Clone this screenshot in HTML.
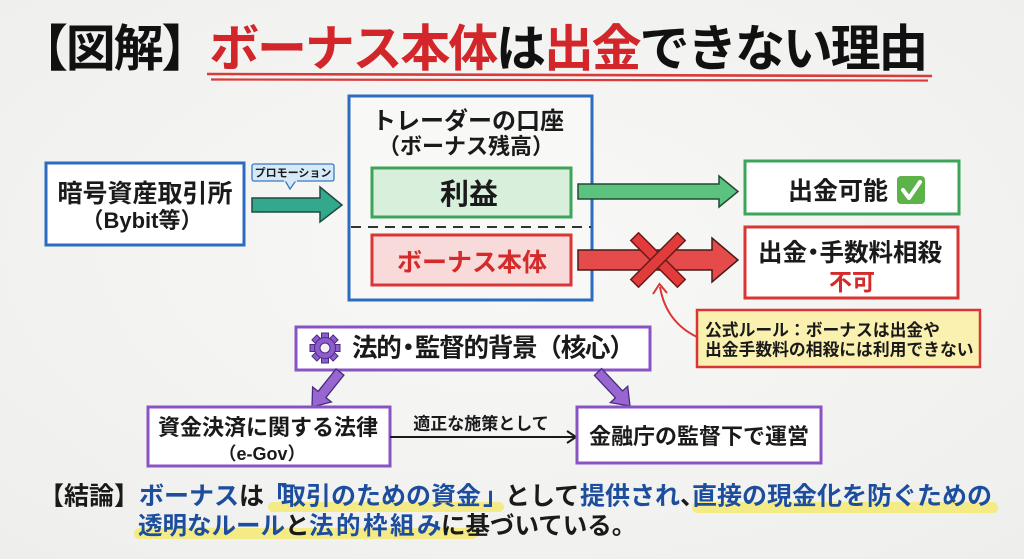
<!DOCTYPE html>
<html><head><meta charset="utf-8"><style>
html,body{margin:0;padding:0;background:#f3f3f2;}
svg{display:block;}
text{font-family:"Liberation Sans","Noto Sans CJK JP",sans-serif;font-weight:700;}
</style></head><body>
<svg width="1024" height="559" viewBox="0 0 1024 559" xmlns="http://www.w3.org/2000/svg">
<defs>
<radialGradient id="bg" cx="50%" cy="45%" r="75%">
<stop offset="0" stop-color="#f8f8f7"/><stop offset="1" stop-color="#eeeeec"/>
</radialGradient>
</defs>
<rect width="1024" height="559" fill="url(#bg)"/>

<!-- Title -->
<text x="18" y="66" font-size="50" letter-spacing="-2.2" fill="#111"><tspan>【図解】</tspan><tspan fill="#d2262a">ボーナス本体</tspan><tspan>は</tspan><tspan fill="#d2262a">出金</tspan><tspan>できない理由</tspan></text>
<path d="M207 74 L932 76" stroke="#d93a3a" stroke-width="2.6" fill="none"/>
<path d="M211 79.5 L928 80.5" stroke="#d93a3a" stroke-width="2.2" fill="none"/>

<!-- Left box -->
<rect x="46" y="163" width="198" height="82" fill="#fff" stroke="#2c6cc0" stroke-width="3"/>
<text x="145" y="202" font-size="25" text-anchor="middle" fill="#1a1a1a">暗号資産取引所</text>
<text x="142" y="228" font-size="22" text-anchor="middle" fill="#1a1a1a">（Bybit等）</text>

<!-- promo bubble -->
<rect x="252" y="164" width="82" height="17" rx="2" fill="#d6e9f7" stroke="#3a78c0" stroke-width="1.3"/>
<polygon points="285,180.5 290,189 296,180.5" fill="#d6e9f7" stroke="#3a78c0" stroke-width="1.3"/>
<rect x="284" y="179" width="13" height="2.5" fill="#d6e9f7"/>
<text x="293" y="176.5" font-size="11" text-anchor="middle" fill="#1a1a1a">プロモーション</text>

<!-- teal arrow -->
<polygon points="252,198 320,198 320,187 342,205 320,222 320,212 252,212" fill="#33a88c" stroke="#1f4a40" stroke-width="1.5"/>

<!-- Main blue box -->
<rect x="349" y="96" width="243" height="204" fill="#f8f8f7" stroke="#2c6cc0" stroke-width="3"/>
<text x="468" y="129" font-size="24" text-anchor="middle" fill="#1a1a1a">トレーダーの口座</text>
<text x="466" y="154" font-size="22" text-anchor="middle" fill="#1a1a1a">（ボーナス残高）</text>
<rect x="372" y="168" width="199" height="49" fill="#d8efdc" stroke="#3da55a" stroke-width="3"/>
<text x="469" y="204" font-size="29" text-anchor="middle" fill="#1a1a1a">利益</text>
<line x1="351" y1="227" x2="591" y2="227" stroke="#333" stroke-width="2" stroke-dasharray="10,7"/>
<rect x="372" y="235" width="199" height="50" fill="#f9dada" stroke="#d93535" stroke-width="3"/>
<text x="472" y="271" font-size="25" text-anchor="middle" fill="#d42a2a">ボーナス本体</text>

<!-- green arrow -->
<polygon points="578,184 719,184 719,176 738,191.5 719,207 719,199 578,199" fill="#5cc27f" stroke="#234a30" stroke-width="1.5"/>

<!-- green result -->
<rect x="745" y="161" width="214" height="53" fill="#fff" stroke="#3da55a" stroke-width="3"/>
<text x="788" y="199.5" font-size="25" fill="#1a1a1a">出金可能</text>
<rect x="897" y="176" width="28" height="28" rx="4" fill="#5bb34a"/>
<polyline points="903,190 909,198 920,182" fill="none" stroke="#fff" stroke-width="4" stroke-linecap="round" stroke-linejoin="round"/>

<!-- red arrow -->
<polygon points="578,250 712,250 712,238 738,260 712,282 712,270 578,270" fill="#e54b4b" stroke="#4a1a1a" stroke-width="1.5"/>
<g transform="translate(658,260)">
<rect x="-33" y="-5.5" width="66" height="11" transform="rotate(45)" fill="#e23b3b" stroke="#6a1a1a" stroke-width="1.5"/>
<rect x="-33" y="-5.5" width="66" height="11" transform="rotate(-45)" fill="#e23b3b" stroke="#6a1a1a" stroke-width="1.5"/>
</g>

<!-- red result -->
<rect x="745" y="227" width="213" height="71" fill="#fff" stroke="#d93535" stroke-width="3"/>
<text x="758" y="261" font-size="24.5" fill="#1a1a1a"><tspan>出金</tspan><tspan dx="-6">・</tspan><tspan dx="-6">手数料相殺</tspan></text>
<text x="852" y="290" font-size="23" text-anchor="middle" fill="#d42a2a">不可</text>

<!-- note -->
<rect x="697" y="310" width="283" height="57" fill="#faf0b0" stroke="#d93535" stroke-width="2.5"/>
<text x="705" y="336" font-size="16.8" fill="#1a1a1a">公式ルール：ボーナスは出金や</text>
<text x="705" y="355.5" font-size="16.8" fill="#1a1a1a">出金手数料の相殺には利用できない</text>
<path d="M697 337 Q666 322 660 287" fill="none" stroke="#d93535" stroke-width="2"/>
<polyline points="653,294 659.5,284 667,293" fill="none" stroke="#d93535" stroke-width="2"/>

<!-- purple header -->
<rect x="296" y="327" width="354" height="43" fill="#fff" stroke="#8a53c4" stroke-width="3"/>
<g transform="translate(325,348)" fill="#8d5ccc" stroke="#4a2a80" stroke-width="1">
<rect x="-3.5" y="-15" width="7" height="7" transform="rotate(0)"/>
<rect x="-3.5" y="-15" width="7" height="7" transform="rotate(45)"/>
<rect x="-3.5" y="-15" width="7" height="7" transform="rotate(90)"/>
<rect x="-3.5" y="-15" width="7" height="7" transform="rotate(135)"/>
<rect x="-3.5" y="-15" width="7" height="7" transform="rotate(180)"/>
<rect x="-3.5" y="-15" width="7" height="7" transform="rotate(225)"/>
<rect x="-3.5" y="-15" width="7" height="7" transform="rotate(270)"/>
<rect x="-3.5" y="-15" width="7" height="7" transform="rotate(315)"/>
<circle r="10.5"/>
<circle r="5" fill="#f4f0fa"/>
</g>
<text x="352" y="356.5" font-size="25.5" letter-spacing="-1.2" fill="#1a1a1a"><tspan>法的</tspan><tspan dx="-5">・</tspan><tspan dx="-5">監督的背景（核心）</tspan></text>

<!-- purple arrows -->
<polygon points="336.1,368.9 318.1,391.4 312.6,387 312,407 331.4,402 325.9,397.6 343.9,375.1" fill="#9866d0" stroke="#4a2a80" stroke-width="1.3"/>
<polygon points="601.6,368.6 622.6,391 627.7,386.2 630,406 610.3,402.6 615.4,397.8 594.4,375.4" fill="#9866d0" stroke="#4a2a80" stroke-width="1.3"/>

<!-- purple boxes -->
<rect x="148" y="407" width="242" height="59" fill="#fff" stroke="#8a53c4" stroke-width="3"/>
<text x="268" y="435" font-size="22" text-anchor="middle" fill="#1a1a1a">資金決済に関する法律</text>
<text x="262" y="460" font-size="18" text-anchor="middle" fill="#1a1a1a">（e-Gov）</text>
<line x1="390" y1="437" x2="575" y2="437" stroke="#1a1a1a" stroke-width="2"/>
<polyline points="567,431 576,437 567,443" fill="none" stroke="#1a1a1a" stroke-width="2"/>
<text x="481" y="429.5" font-size="17" text-anchor="middle" fill="#1a1a1a">適正な施策として</text>
<rect x="577" y="407" width="244" height="56" fill="#fff" stroke="#8a53c4" stroke-width="3"/>
<text x="699" y="444" font-size="22" text-anchor="middle" fill="#1a1a1a">金融庁の監督下で運営</text>

<!-- conclusion highlights -->
<rect x="268" y="502" width="236" height="10" rx="5" fill="#f5ea74" opacity="0.85"/>
<rect x="692" y="502" width="306" height="11" rx="5" fill="#f5ea74" opacity="0.85"/>
<rect x="134" y="528" width="344" height="11" rx="5" fill="#f5ea74" opacity="0.85"/>

<!-- conclusion text -->
<text y="504.5" font-size="25" fill="#1a1a1a">
<tspan x="39">【結論】</tspan><tspan x="139" fill="#1d4e9e">ボーナス</tspan><tspan>は</tspan><tspan x="262" fill="#1d4e9e">「</tspan><tspan x="281" fill="#1d4e9e">取引のための資金</tspan><tspan x="483" fill="#1d4e9e">」</tspan><tspan x="505">として</tspan><tspan x="580" fill="#1d4e9e">提供され</tspan><tspan x="680">、</tspan><tspan x="692" fill="#1d4e9e">直接の現金化を防ぐための</tspan>
</text>
<text y="534" font-size="24.5" fill="#1a1a1a"><tspan x="138" fill="#1d4e9e">透明なルール</tspan><tspan x="285">と</tspan><tspan x="309" fill="#1d4e9e" letter-spacing="2.5">法的枠組み</tspan><tspan x="441" letter-spacing="0">に基づいている。</tspan></text>
</svg>
</body></html>
